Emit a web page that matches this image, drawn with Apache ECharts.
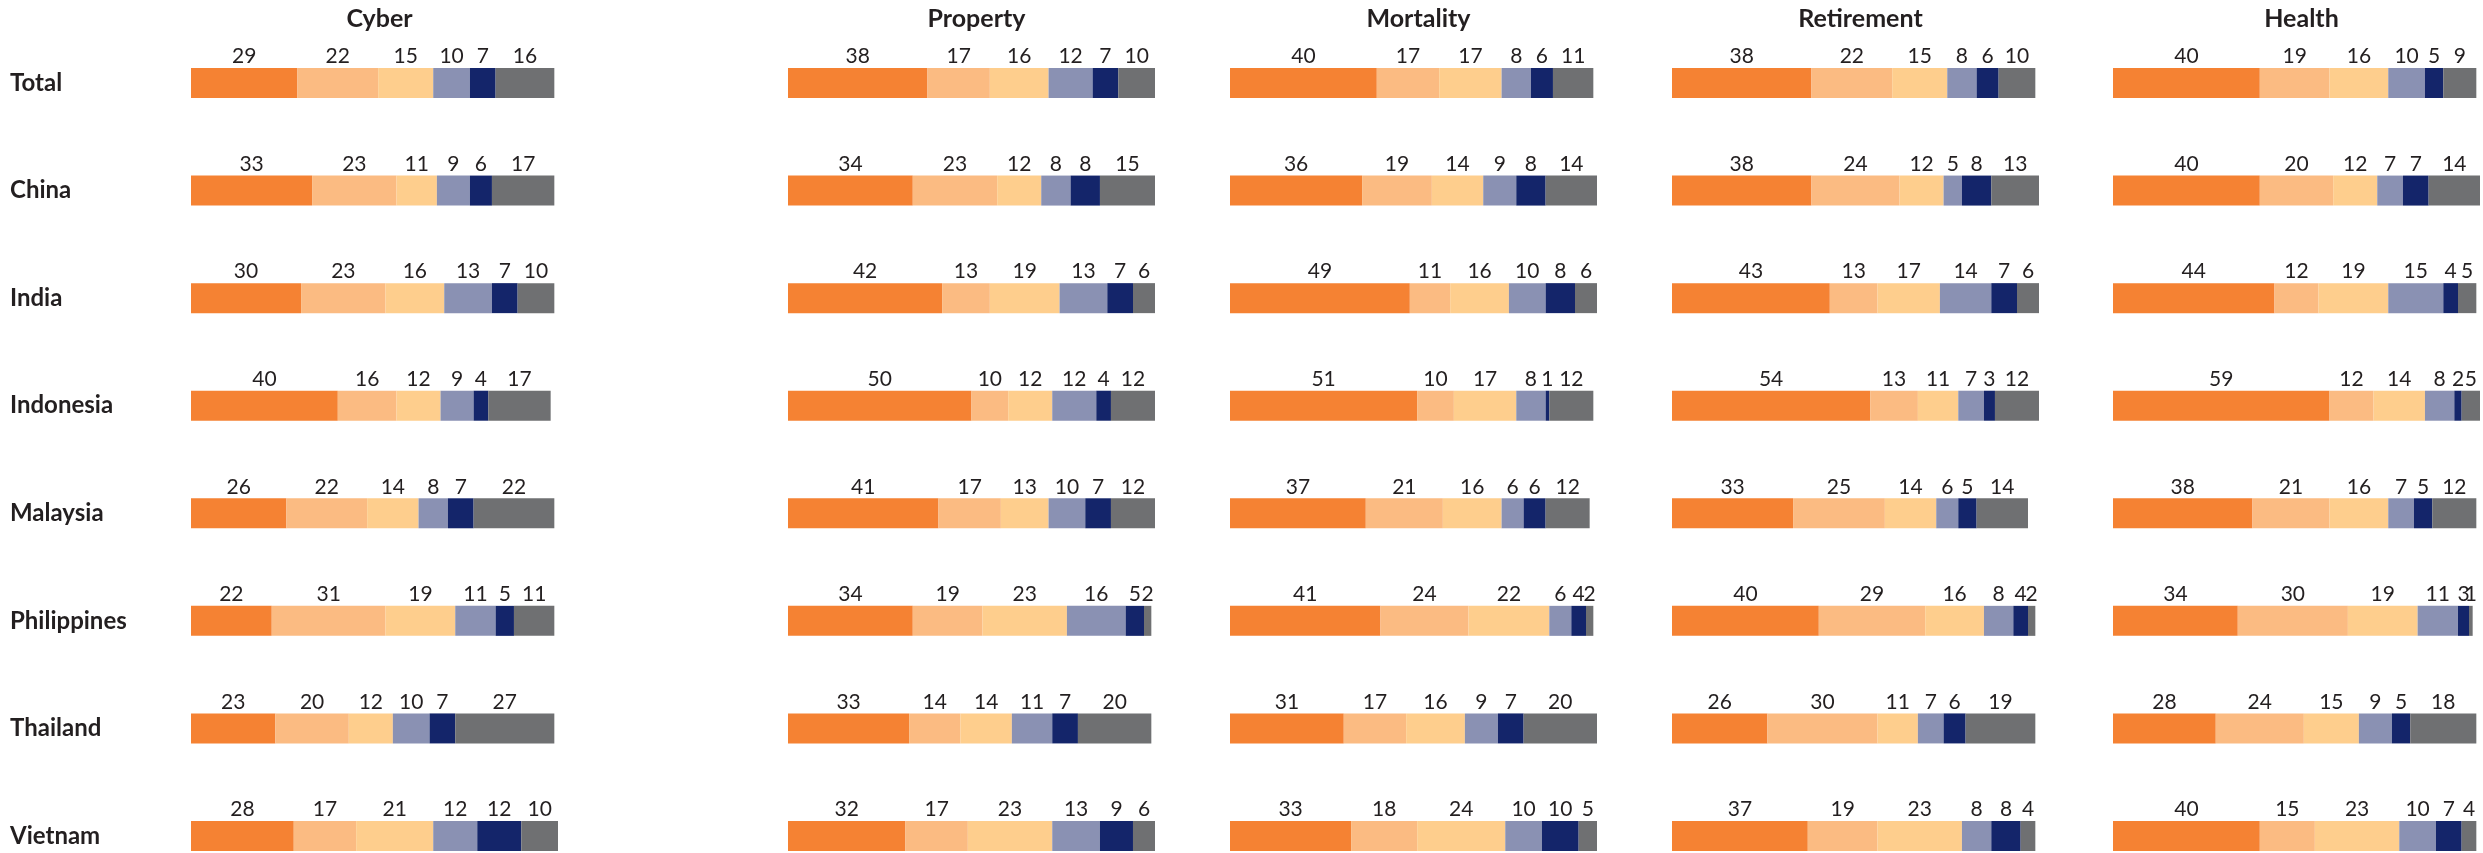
<!DOCTYPE html>
<html>
<head>
<meta charset="utf-8">
<title>Coverage by line and market</title>
<script src="https://cdn.jsdelivr.net/npm/echarts@6/dist/echarts.min.js"></script>
<style>
  html, body { margin: 0; padding: 0; background: #ffffff; }
  #chart { width: 2483px; height: 853px; }
</style>
</head>
<body>
<div id="chart"></div>
<script>
// Markets (rows) and lines of cover (panels)
const categories = ['Total', 'China', 'India', 'Indonesia', 'Malaysia', 'Philippines', 'Thailand', 'Vietnam'];
const panels = ['Cyber', 'Property', 'Mortality', 'Retirement', 'Health'];

// Six response bands per bar, in stacking order
const segmentColors = ['#F58233', '#FBBB82', '#FECE8D', '#8A91B3', '#14256A', '#6F7072'];

// Percentages per market, one row per category, six bands each
const cyber = [
  [29, 22, 15, 10, 7, 16],
  [33, 23, 11, 9, 6, 17],
  [30, 23, 16, 13, 7, 10],
  [40, 16, 12, 9, 4, 17],
  [26, 22, 14, 8, 7, 22],
  [22, 31, 19, 11, 5, 11],
  [23, 20, 12, 10, 7, 27],
  [28, 17, 21, 12, 12, 10]
];
const property = [
  [38, 17, 16, 12, 7, 10],
  [34, 23, 12, 8, 8, 15],
  [42, 13, 19, 13, 7, 6],
  [50, 10, 12, 12, 4, 12],
  [41, 17, 13, 10, 7, 12],
  [34, 19, 23, 16, 5, 2],
  [33, 14, 14, 11, 7, 20],
  [32, 17, 23, 13, 9, 6]
];
const mortality = [
  [40, 17, 17, 8, 6, 11],
  [36, 19, 14, 9, 8, 14],
  [49, 11, 16, 10, 8, 6],
  [51, 10, 17, 8, 1, 12],
  [37, 21, 16, 6, 6, 12],
  [41, 24, 22, 6, 4, 2],
  [31, 17, 16, 9, 7, 20],
  [33, 18, 24, 10, 10, 5]
];
const retirement = [
  [38, 22, 15, 8, 6, 10],
  [38, 24, 12, 5, 8, 13],
  [43, 13, 17, 14, 7, 6],
  [54, 13, 11, 7, 3, 12],
  [33, 25, 14, 6, 5, 14],
  [40, 29, 16, 8, 4, 2],
  [26, 30, 11, 7, 6, 19],
  [37, 19, 23, 8, 8, 4]
];
const health = [
  [40, 19, 16, 10, 5, 9],
  [40, 20, 12, 7, 7, 14],
  [44, 12, 19, 15, 4, 5],
  [59, 12, 14, 8, 2, 5],
  [38, 21, 16, 7, 5, 12],
  [34, 30, 19, 11, 3, 1],
  [28, 24, 15, 9, 5, 18],
  [40, 15, 23, 10, 7, 4]
];
const panelValues = [cyber, property, mortality, retirement, health];

// Layout: rows sit on the category ticks (first row centre at the grid top,
// last row centre at the grid bottom)
const gridLefts = [191, 788, 1230, 1672, 2113];
const gridWidth = 367;
const gridTop = 83;
const gridHeight = 753;
const fontFamily = 'Lato, "Open Sans", sans-serif';
const textColor = '#231F20';

const chart = echarts.init(document.getElementById('chart'), null, { renderer: 'canvas' });

const grids = gridLefts.map(left => ({ left: left, top: gridTop, width: gridWidth, height: gridHeight, containLabel: false }));

const xAxes = gridLefts.map((_, i) => ({
  type: 'value', gridIndex: i, min: 0, max: 100,
  show: false
}));

const yAxes = gridLefts.map((_, i) => ({
  type: 'category', gridIndex: i, data: categories, inverse: true,
  boundaryGap: false,
  axisLine: { show: false }, axisTick: { show: false }, splitLine: { show: false },
  axisLabel: {
    show: i === 0,
    align: 'left',
    margin: 181,
    padding: [11, 0, 0, 0],
    fontFamily: fontFamily,
    fontWeight: 'bold',
    fontSize: 24,
    color: textColor
  }
}));

const series = [];
panelValues.forEach((rows, p) => {
  segmentColors.forEach((color, s) => {
    series.push({
      type: 'bar',
      name: panels[p] + ' ' + (s + 1),
      xAxisIndex: p,
      yAxisIndex: p,
      stack: 'panel' + p,
      barWidth: 30,
      clip: false,
      data: rows.map(r => r[s]),
      itemStyle: { color: color },
      label: {
        show: true,
        position: 'top',
        distance: 1,
        formatter: '{c}',
        fontFamily: fontFamily,
        fontSize: 21,
        color: textColor
      }
    });
  });
});

const titles = panels.map((t, i) => ({
  text: t,
  left: gridLefts[i] + gridWidth / 2,
  top: 1,
  textAlign: 'center',
  textStyle: { fontFamily: fontFamily, fontWeight: 'bold', fontSize: 25, color: textColor }
}));

chart.setOption({
  animation: false,
  backgroundColor: '#ffffff',
  title: titles,
  grid: grids,
  xAxis: xAxes,
  yAxis: yAxes,
  series: series
});
</script>
</body>
</html>
